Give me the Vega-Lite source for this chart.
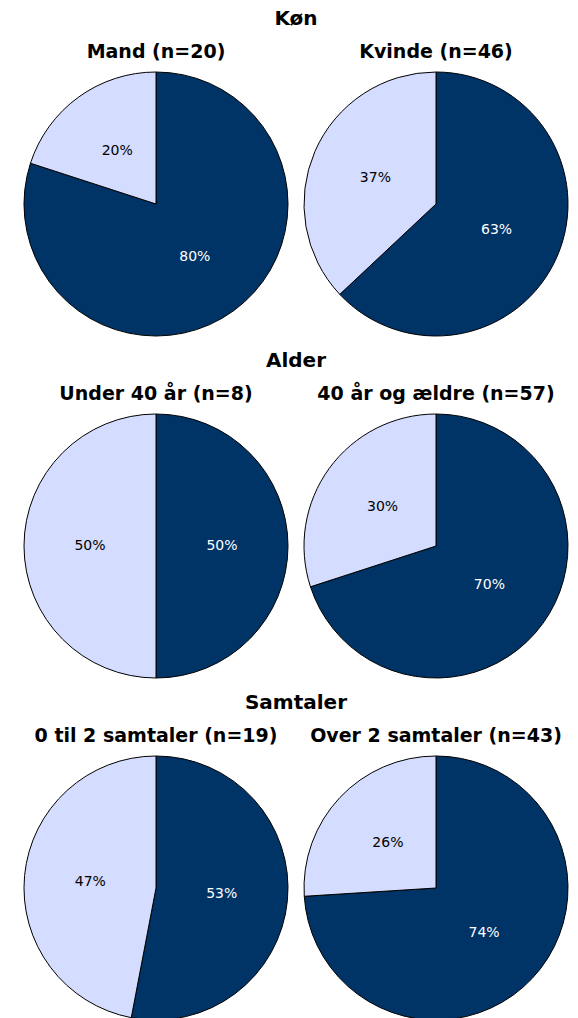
{
  "$schema": "https://vega.github.io/schema/vega-lite/v6.json",
  "padding": {"left": 22, "top": 9, "right": 0, "bottom": 0},
  "background": "white",
  "config": {
    "view": {"stroke": null},
    "font": "DejaVu Sans",
    "title": {"font": "DejaVu Sans", "fontSize": 19, "fontWeight": "bold", "color": "black", "offset": 8, "anchor": "middle"}
  },
  "data": {
    "values": [
      {"panel": "Mand (n=20)", "part": "a", "ord": 1, "value": 80, "lbl": "80%"},
      {"panel": "Mand (n=20)", "part": "b", "ord": 2, "value": 20, "lbl": "20%"},
      {"panel": "Kvinde (n=46)", "part": "a", "ord": 1, "value": 63, "lbl": "63%"},
      {"panel": "Kvinde (n=46)", "part": "b", "ord": 2, "value": 37, "lbl": "37%"},
      {"panel": "Under 40 år (n=8)", "part": "a", "ord": 1, "value": 50, "lbl": "50%"},
      {"panel": "Under 40 år (n=8)", "part": "b", "ord": 2, "value": 50, "lbl": "50%"},
      {"panel": "40 år og ældre (n=57)", "part": "a", "ord": 1, "value": 70, "lbl": "70%"},
      {"panel": "40 år og ældre (n=57)", "part": "b", "ord": 2, "value": 30, "lbl": "30%"},
      {"panel": "0 til 2 samtaler (n=19)", "part": "a", "ord": 1, "value": 53, "lbl": "53%"},
      {"panel": "0 til 2 samtaler (n=19)", "part": "b", "ord": 2, "value": 47, "lbl": "47%"},
      {"panel": "Over 2 samtaler (n=43)", "part": "a", "ord": 1, "value": 74, "lbl": "74%"},
      {"panel": "Over 2 samtaler (n=43)", "part": "b", "ord": 2, "value": 26, "lbl": "26%"}
    ]
  },
  "spacing": 13,
  "vconcat": [
    {
      "title": {"text": "Køn", "fontSize": 20, "offset": 14},
      "spacing": 12,
      "hconcat": [
        {
          "width": 264, "height": 264,
          "title": {"text": "Mand (n=20)"},
          "transform": [{"filter": "datum.panel === 'Mand (n=20)'"}],
          "encoding": {
            "theta": {"field": "value", "type": "quantitative", "stack": true},
            "order": {"field": "ord", "type": "quantitative"},
            "color": {"field": "part", "type": "nominal", "scale": {"domain": ["a", "b"], "range": ["#003366", "#D4DCFF"]}, "legend": null}
          },
          "layer": [
            {"mark": {"type": "arc", "outerRadius": 132, "stroke": "black", "strokeWidth": 1}},
            {"mark": {"type": "text", "radius": 66, "fontSize": 14}, "encoding": {"text": {"field": "lbl"}, "color": {"condition": {"test": "datum.part === 'a'", "value": "white"}, "value": "black"}}}
          ]
        },
        {
          "width": 264, "height": 264,
          "title": {"text": "Kvinde (n=46)"},
          "transform": [{"filter": "datum.panel === 'Kvinde (n=46)'"}],
          "encoding": {
            "theta": {"field": "value", "type": "quantitative", "stack": true},
            "order": {"field": "ord", "type": "quantitative"},
            "color": {"field": "part", "type": "nominal", "scale": {"domain": ["a", "b"], "range": ["#003366", "#D4DCFF"]}, "legend": null}
          },
          "layer": [
            {"mark": {"type": "arc", "outerRadius": 132, "stroke": "black", "strokeWidth": 1}},
            {"mark": {"type": "text", "radius": 66, "fontSize": 14}, "encoding": {"text": {"field": "lbl"}, "color": {"condition": {"test": "datum.part === 'a'", "value": "white"}, "value": "black"}}}
          ]
        }
      ]
    },
    {
      "title": {"text": "Alder", "fontSize": 20, "offset": 14},
      "spacing": 12,
      "hconcat": [
        {
          "width": 264, "height": 264,
          "title": {"text": "Under 40 år (n=8)"},
          "transform": [{"filter": "datum.panel === 'Under 40 år (n=8)'"}],
          "encoding": {
            "theta": {"field": "value", "type": "quantitative", "stack": true},
            "order": {"field": "ord", "type": "quantitative"},
            "color": {"field": "part", "type": "nominal", "scale": {"domain": ["a", "b"], "range": ["#003366", "#D4DCFF"]}, "legend": null}
          },
          "layer": [
            {"mark": {"type": "arc", "outerRadius": 132, "stroke": "black", "strokeWidth": 1}},
            {"mark": {"type": "text", "radius": 66, "fontSize": 14}, "encoding": {"text": {"field": "lbl"}, "color": {"condition": {"test": "datum.part === 'a'", "value": "white"}, "value": "black"}}}
          ]
        },
        {
          "width": 264, "height": 264,
          "title": {"text": "40 år og ældre (n=57)"},
          "transform": [{"filter": "datum.panel === '40 år og ældre (n=57)'"}],
          "encoding": {
            "theta": {"field": "value", "type": "quantitative", "stack": true},
            "order": {"field": "ord", "type": "quantitative"},
            "color": {"field": "part", "type": "nominal", "scale": {"domain": ["a", "b"], "range": ["#003366", "#D4DCFF"]}, "legend": null}
          },
          "layer": [
            {"mark": {"type": "arc", "outerRadius": 132, "stroke": "black", "strokeWidth": 1}},
            {"mark": {"type": "text", "radius": 66, "fontSize": 14}, "encoding": {"text": {"field": "lbl"}, "color": {"condition": {"test": "datum.part === 'a'", "value": "white"}, "value": "black"}}}
          ]
        }
      ]
    },
    {
      "title": {"text": "Samtaler", "fontSize": 20, "offset": 14},
      "spacing": 12,
      "hconcat": [
        {
          "width": 264, "height": 264,
          "title": {"text": "0 til 2 samtaler (n=19)"},
          "transform": [{"filter": "datum.panel === '0 til 2 samtaler (n=19)'"}],
          "encoding": {
            "theta": {"field": "value", "type": "quantitative", "stack": true},
            "order": {"field": "ord", "type": "quantitative"},
            "color": {"field": "part", "type": "nominal", "scale": {"domain": ["a", "b"], "range": ["#003366", "#D4DCFF"]}, "legend": null}
          },
          "layer": [
            {"mark": {"type": "arc", "outerRadius": 132, "stroke": "black", "strokeWidth": 1}},
            {"mark": {"type": "text", "radius": 66, "fontSize": 14}, "encoding": {"text": {"field": "lbl"}, "color": {"condition": {"test": "datum.part === 'a'", "value": "white"}, "value": "black"}}}
          ]
        },
        {
          "width": 264, "height": 264,
          "title": {"text": "Over 2 samtaler (n=43)"},
          "transform": [{"filter": "datum.panel === 'Over 2 samtaler (n=43)'"}],
          "encoding": {
            "theta": {"field": "value", "type": "quantitative", "stack": true},
            "order": {"field": "ord", "type": "quantitative"},
            "color": {"field": "part", "type": "nominal", "scale": {"domain": ["a", "b"], "range": ["#003366", "#D4DCFF"]}, "legend": null}
          },
          "layer": [
            {"mark": {"type": "arc", "outerRadius": 132, "stroke": "black", "strokeWidth": 1}},
            {"mark": {"type": "text", "radius": 66, "fontSize": 14}, "encoding": {"text": {"field": "lbl"}, "color": {"condition": {"test": "datum.part === 'a'", "value": "white"}, "value": "black"}}}
          ]
        }
      ]
    }
  ]
}
